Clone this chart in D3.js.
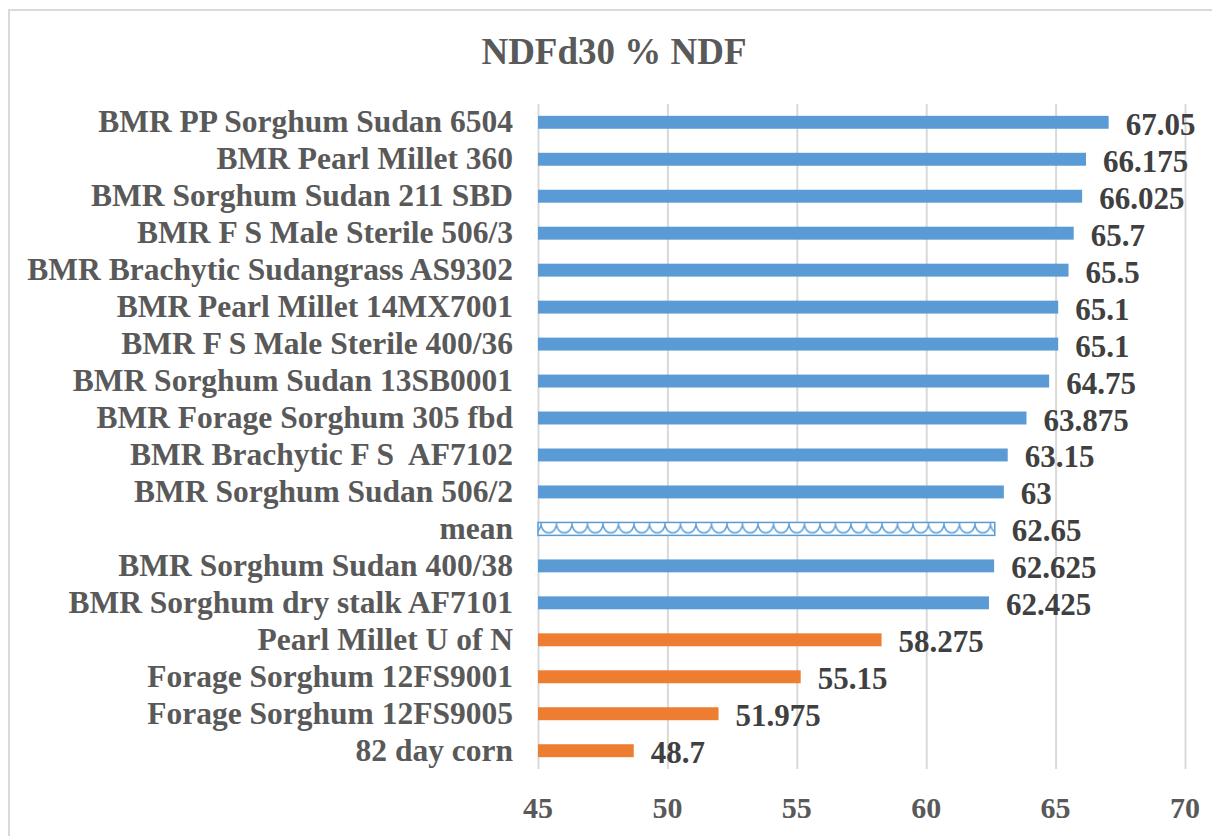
<!DOCTYPE html>
<html>
<head>
<meta charset="utf-8">
<script src="https://cdn.jsdelivr.net/npm/d3@7"></script>
<style>
  body { margin: 0; background: #fff; }
  svg text { font-family: "Liberation Serif", "Times New Roman", serif; font-weight: bold; }
</style>
</head>
<body>
<svg id="chart" width="1212" height="836"></svg>
<script>
var categories = [
  "BMR PP Sorghum Sudan 6504",
  "BMR Pearl Millet 360",
  "BMR Sorghum Sudan 211 SBD",
  "BMR F S Male Sterile 506/3",
  "BMR Brachytic Sudangrass AS9302",
  "BMR Pearl Millet 14MX7001",
  "BMR F S Male Sterile 400/36",
  "BMR Sorghum Sudan 13SB0001",
  "BMR Forage Sorghum 305 fbd",
  "BMR Brachytic F S  AF7102",
  "BMR Sorghum Sudan 506/2",
  "mean",
  "BMR Sorghum Sudan 400/38",
  "BMR Sorghum dry stalk AF7101",
  "Pearl Millet U of N",
  "Forage Sorghum 12FS9001",
  "Forage Sorghum 12FS9005",
  "82 day corn"
];
var values = [67.05, 66.175, 66.025, 65.7, 65.5, 65.1, 65.1, 64.75, 63.875, 63.15, 63,
  62.65, 62.625, 62.425, 58.275, 55.15, 51.975, 48.7];
var labels = ["67.05", "66.175", "66.025", "65.7", "65.5", "65.1", "65.1", "64.75", "63.875",
  "63.15", "63", "62.65", "62.625", "62.425", "58.275", "55.15", "51.975", "48.7"];
// group: bmr = blue, mean = patterned, conv = orange
var groups = ["bmr", "bmr", "bmr", "bmr", "bmr", "bmr", "bmr", "bmr", "bmr", "bmr", "bmr",
  "mean", "bmr", "bmr", "conv", "conv", "conv", "conv"];
var xTicks = [45, 50, 55, 60, 65, 70];
var title = "NDFd30 % NDF";

var svg = d3.select("#chart");

var plotLeft = 538, plotRight = 1185, plotTop = 104, plotBottom = 769;

var x = d3.scaleLinear().domain([45, 70]).range([plotLeft, plotRight]);
var y = d3.scaleBand().domain(categories).range([plotTop, plotBottom])
  .paddingInner(0.65).paddingOuter(0.32);

var colors = { bmr: "#5B9BD5", conv: "#ED7D31" };

// outer border
svg.append("rect")
  .attr("x", 9).attr("y", 10)
  .attr("width", 1212).attr("height", 836)
  .attr("fill", "none").attr("stroke", "#D9D9D9").attr("stroke-width", 2);

// scallop pattern for the mean bar
var bw = y.bandwidth();
var defs = svg.append("defs");
var pat = defs.append("pattern")
  .attr("id", "wave")
  .attr("patternUnits", "userSpaceOnUse")
  .attr("width", 15.5).attr("height", bw)
  .attr("x", plotLeft + 3)
  .attr("y", y("mean"));
pat.append("rect").attr("width", 15.5).attr("height", bw).attr("fill", "#fff");
pat.append("path")
  .attr("d", "M0,0 L0,3 C3,13 12.5,13 15.5,3 L15.5,0")
  .attr("fill", "none").attr("stroke", "#5B9BD5").attr("stroke-width", 1.5);

// title
svg.append("text")
  .attr("x", 614).attr("y", 64)
  .attr("text-anchor", "middle")
  .attr("font-size", 37)
  .attr("fill", "#595959")
  .text(title);

var plot = svg.append("g").attr("id", "plot");

// gridlines
var grid = d3.axisBottom(x).tickValues(xTicks).tickFormat("").tickSize(-(plotBottom - plotTop));
plot.append("g")
  .attr("class", "grid")
  .attr("transform", "translate(0," + plotBottom + ")")
  .call(grid)
  .call(function(g) {
    g.select(".domain").remove();
    g.selectAll("line").attr("stroke", "#D9D9D9").attr("stroke-width", 2);
  });

// x tick labels
plot.selectAll("text.xtick")
  .data(xTicks)
  .enter().append("text")
  .attr("class", "xtick")
  .attr("x", function(d) { return x(d); })
  .attr("y", 818)
  .attr("text-anchor", "middle")
  .attr("font-size", 30)
  .attr("fill", "#595959")
  .text(function(d) { return d; });

var rows = categories.map(function(c, i) {
  return { cat: c, value: values[i], label: labels[i], group: groups[i] };
});

// bars
plot.selectAll("rect.bar")
  .data(rows)
  .enter().append("rect")
  .attr("class", "bar")
  .attr("x", x(45))
  .attr("y", function(d) { return y(d.cat); })
  .attr("width", function(d) { return x(d.value) - x(45); })
  .attr("height", bw)
  .attr("fill", function(d) { return d.group == "mean" ? "url(#wave)" : colors[d.group]; })
  .attr("stroke", function(d) { return d.group == "mean" ? "#5B9BD5" : "none"; })
  .attr("stroke-width", 1.5);

// category labels
plot.selectAll("text.cat")
  .data(rows)
  .enter().append("text")
  .attr("class", "cat")
  .attr("x", plotLeft - 25)
  .attr("y", function(d) { return y(d.cat) + bw / 2 + 10; })
  .attr("text-anchor", "end")
  .attr("font-size", 31.5)
  .attr("fill", "#595959")
  .style("white-space", "pre")
  .text(function(d) { return d.cat; });

// value labels
plot.selectAll("text.val")
  .data(rows)
  .enter().append("text")
  .attr("class", "val")
  .attr("x", function(d) { return x(d.value) + 17; })
  .attr("y", function(d) { return y(d.cat) + bw / 2 + 12.5; })
  .attr("font-size", 31)
  .attr("fill", "#404040")
  .text(function(d) { return d.label; });
</script>
</body>
</html>
